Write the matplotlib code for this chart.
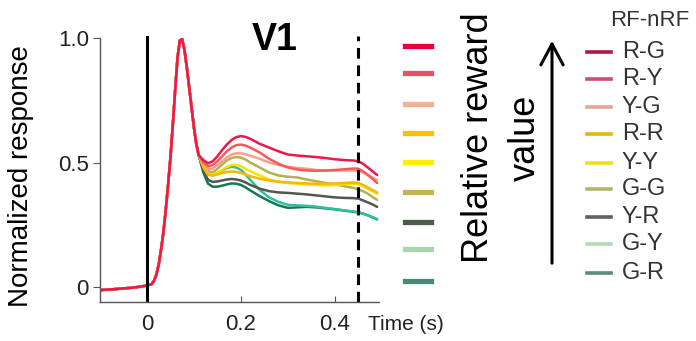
import matplotlib
matplotlib.use("Agg")
import matplotlib.pyplot as plt
from matplotlib.lines import Line2D
from matplotlib.patches import FancyArrowPatch

plt.rcParams['font.family'] = ['Liberation Sans', 'DejaVu Sans']

# ---- data ----
labels = ["R-G", "R-Y", "Y-G", "R-R", "Y-Y", "G-G", "Y-R", "G-Y", "G-R"]

t_early = [-0.10, -0.08, -0.06, -0.04, -0.02, 0.0, 0.01, 0.015, 0.02, 0.025, 0.03,
           0.035, 0.04, 0.045, 0.05, 0.055, 0.06, 0.065, 0.07, 0.075, 0.08, 0.085,
           0.09, 0.095, 0.10, 0.105, 0.11]
v_early = [-0.012, -0.01, -0.007, -0.004, 0.0, 0.006, 0.012, 0.025, 0.05, 0.09, 0.15,
           0.22, 0.31, 0.41, 0.52, 0.65, 0.79, 0.92, 0.99, 0.995, 0.95, 0.88,
           0.80, 0.72, 0.64, 0.575, 0.53]

t_late = [0.12, 0.13, 0.14, 0.15, 0.16, 0.17, 0.18, 0.19, 0.20, 0.21, 0.22, 0.24, 0.26,
          0.28, 0.30, 0.32, 0.34, 0.36, 0.38, 0.40, 0.42, 0.44, 0.45, 0.46, 0.47, 0.48, 0.49]

rg = [0.51, 0.497, 0.505, 0.525, 0.55, 0.572, 0.59, 0.602, 0.606, 0.603, 0.595, 0.575, 0.56,
      0.545, 0.532, 0.528, 0.525, 0.522, 0.518, 0.513, 0.51, 0.508, 0.505, 0.495, 0.48, 0.465, 0.45]
ry = [0.50, 0.485, 0.49, 0.505, 0.525, 0.545, 0.56, 0.57, 0.572, 0.568, 0.56, 0.54, 0.515,
      0.495, 0.48, 0.472, 0.468, 0.467, 0.468, 0.47, 0.473, 0.476, 0.475, 0.465, 0.45, 0.435, 0.418]
yg = [0.495, 0.475, 0.475, 0.49, 0.505, 0.52, 0.532, 0.537, 0.537, 0.533, 0.527, 0.515, 0.50,
      0.49, 0.483, 0.478, 0.475, 0.47, 0.468, 0.468, 0.468, 0.468, 0.465, 0.46, 0.45, 0.44, 0.43]
rr = [0.48, 0.45, 0.448, 0.452, 0.458, 0.462, 0.464, 0.462, 0.458, 0.452, 0.445, 0.435, 0.428,
      0.423, 0.42, 0.418, 0.416, 0.415, 0.415, 0.416, 0.418, 0.42, 0.418, 0.41, 0.40, 0.39, 0.38]
yy = [0.485, 0.455, 0.45, 0.46, 0.47, 0.482, 0.49, 0.49, 0.485, 0.475, 0.465, 0.448, 0.432,
      0.422, 0.418, 0.415, 0.412, 0.41, 0.408, 0.41, 0.413, 0.415, 0.413, 0.405, 0.395, 0.385, 0.375]
gg = [0.49, 0.465, 0.46, 0.475, 0.492, 0.508, 0.518, 0.522, 0.52, 0.512, 0.50, 0.48, 0.46,
      0.448, 0.443, 0.44, 0.432, 0.425, 0.418, 0.412, 0.405, 0.398, 0.392, 0.385, 0.375, 0.362, 0.35]
yr = [0.47, 0.43, 0.422, 0.424, 0.428, 0.432, 0.434, 0.432, 0.428, 0.42, 0.41, 0.395, 0.385,
      0.38, 0.378, 0.375, 0.372, 0.368, 0.364, 0.36, 0.358, 0.357, 0.355, 0.348, 0.34, 0.332, 0.322]
gy = [0.48, 0.455, 0.448, 0.455, 0.468, 0.478, 0.483, 0.48, 0.47, 0.452, 0.43, 0.39, 0.36,
      0.342, 0.33, 0.328, 0.326, 0.323, 0.318, 0.313, 0.308, 0.303, 0.30, 0.295, 0.288, 0.28, 0.272]
gr = [0.46, 0.415, 0.403, 0.403, 0.407, 0.412, 0.416, 0.415, 0.41, 0.40, 0.388, 0.365, 0.345,
      0.328, 0.318, 0.32, 0.322, 0.32, 0.316, 0.312, 0.307, 0.302, 0.30, 0.295, 0.288, 0.28, 0.272]
series = [rg, ry, yg, rr, yy, gg, yr, gy, gr]

x_ticks = [0, 0.2, 0.4]
x_ticklabels = ["0", "0.2", "0.4"]
y_ticks = [0, 0.5, 1.0]
y_ticklabels = ["0", "0.5", "1.0"]
t_end = 0.45

# ---- styles ----
line_colors = ["#f0184a", "#f55a5a", "#f8a090", "#f8b800", "#f8e000",
               "#b8b050", "#50584f", "#30c0a0", "#107a58"]
mid_colors = ["#e6003c", "#e8506a", "#f5b09a", "#ffc000", "#fff000",
              "#c2b84e", "#4e5a4c", "#a8d4b0", "#4a8878"]
leg_colors = ["#b01848", "#c85070", "#e0a898", "#e0b810", "#f0e010",
              "#b8b468", "#606460", "#b8d8b8", "#5a8a80"]

W, H = 696, 341
fig = plt.figure(figsize=(W / 100, H / 100), dpi=100)
ax = fig.add_axes([100 / W, 1 - 302 / H, 279 / W, (302 - 35.5) / H])

for vals, c in reversed(list(zip(series, line_colors))):
    ax.plot(t_early + t_late, v_early + vals, color=c, lw=1.8, solid_capstyle='round')

ax.axvline(0, color='black', lw=2.2)
ax.axvline(t_end, color='black', lw=2.2, ls=(0, (3.5, 2.2)))

ax.set_xlim(-0.1, 0.494)
ax.set_ylim(-0.06, 1.01)
for s in ['top', 'right']:
    ax.spines[s].set_visible(False)
for s in ['left', 'bottom']:
    ax.spines[s].set_color('#555555')
    ax.spines[s].set_linewidth(1.0)
ax.spines['left'].set_bounds(-0.06, 1.0)

ax.set_xticks(x_ticks)
ax.set_xticklabels(x_ticklabels)
ax.set_yticks(y_ticks)
ax.set_yticklabels(y_ticklabels)
ax.tick_params(axis='x', direction='in', length=4, pad=9, labelsize=16,
               colors='#555555', labelcolor='#222222')
ax.tick_params(axis='y', direction='out', length=5, pad=3, labelsize=16,
               colors='#555555', labelcolor='#222222')
ax.set_ylabel("Normalized response", fontsize=20)
ax.yaxis.set_label_coords(-(100 - 34) / 279, (302 - 176) / 266.5)

fig.text(368 / W, 1 - 324 / H, "Time (s)", fontsize=15, ha='left', va='center', color='#222222')
fig.text(275 / W, 1 - 40 / H, "V1", fontsize=27, fontweight='bold', ha='center', va='center')

# middle colour column
mid_y = [45.7, 73.3, 104.3, 133.3, 162, 192, 222, 249.3, 280.7]
for yy_, c in zip(mid_y, mid_colors):
    fig.add_artist(Line2D([405 / W, 431 / W], [1 - yy_ / H] * 2, color=c, lw=3.8,
                          transform=fig.transFigure))

# relative reward value text
fig.text(502 / W, 1 - 138 / H, "Relative reward\nvalue", fontsize=26, rotation=90,
         ha='center', va='center', multialignment='center', linespacing=1.45)

# arrow
fig.add_artist(FancyArrowPatch(
    (552 / W, 1 - 266 / H), (552 / W, 1 - 38 / H), transform=fig.transFigure,
    arrowstyle='->,head_length=15,head_width=8', color='black', lw=2.2,
    mutation_scale=1))

# right legend
fig.text(650 / W, 1 - 20 / H, "RF-nRF", fontsize=16, ha='center', va='center', color='#333333')
leg_y = [52, 79, 107, 134, 163, 189, 217, 244, 273]
for yy_, c, lab in zip(leg_y, leg_colors, labels):
    fig.add_artist(Line2D([587 / W, 611 / W], [1 - yy_ / H] * 2, color=c, lw=2.6,
                          transform=fig.transFigure))
    fig.text(622 / W, 1 - yy_ / H, lab, fontsize=17, ha='left', va='center', color='#333333')

fig.savefig("out.png", dpi=100)
